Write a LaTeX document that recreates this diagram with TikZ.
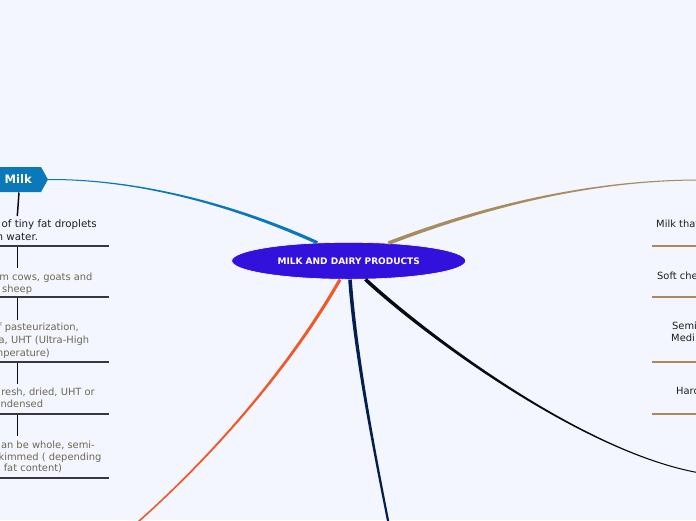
\documentclass[tikz,border=0pt]{standalone}
\usepackage{fontspec}
\setmainfont{DejaVu Sans}
\usetikzlibrary{shapes.geometric,calc}
\definecolor{bg}{RGB}{243,246,254}
\definecolor{rootc}{RGB}{51,17,221}
\definecolor{milkc}{RGB}{10,120,185}
\definecolor{tanc}{RGB}{166,140,95}
\definecolor{orangec}{RGB}{240,90,40}
\definecolor{navyc}{RGB}{5,30,80}
\definecolor{blackc}{RGB}{10,10,20}
\definecolor{olivec}{RGB}{108,104,82}
\definecolor{linec}{RGB}{55,55,65}
\definecolor{tanline}{RGB}{170,140,90}
\definecolor{txt}{RGB}{30,30,30}
% tapered connector: #1 colour, #2 thick end, #3 control near thick end, #4 control near thin end, #5 thin end, #6 half width thick, #7 half width thin
\newcommand\taperline[7]{%
  \coordinate (tA) at ($(#2)!#6!90:(#3)$);
  \coordinate (tB) at ($(#2)!#6!-90:(#3)$);
  \coordinate (tC) at ($(#5)!#7!-90:(#4)$);
  \coordinate (tD) at ($(#5)!#7!90:(#4)$);
  \fill[#1] (tA) .. controls ($(#3)+(tA)-(#2)$) and ($(#4)+(tC)-(#5)$) .. (tC)
    -- (tD) .. controls ($(#4)+(tD)-(#5)$) and ($(#3)+(tB)-(#2)$) .. (tB) -- cycle;
}
\begin{document}
\begin{tikzpicture}[x=1pt,y=-1pt,
  rootnode/.style={ellipse, fill=rootc, draw=white, line width=0.6pt,
    minimum width=234, minimum height=37, inner sep=0pt, text=white,
    font=\fontsize{9}{11}\selectfont\bfseries},
  milktext/.style={text=white, inner sep=0pt, font=\fontsize{11.6}{14}\selectfont\bfseries},
  ltxt/.style={anchor=base east, inner sep=0pt, text=olivec, font=\fontsize{9.9}{12}\selectfont},
  ltxtb/.style={ltxt, text=txt, font=\fontsize{10.3}{12}\selectfont},
  rtxt/.style={anchor=base west, inner sep=0pt, text=txt, font=\fontsize{9.9}{12}\selectfont},
  vconn/.style={draw=blackc, line width=1.5pt},
  uline/.style={draw=linec, line width=1.8pt},
  rline/.style={draw=tanline, line width=1.5pt}]
\fill[bg] (0,0) rectangle (696,520);
\useasboundingbox (0,0) rectangle (696,520);
\clip (0,0) rectangle (696,520);

% central node
\node[rootnode] (root) at (348.7,260.8) {MILK AND DAIRY PRODUCTS};

% Milk topic
\fill[milkc] (-10,167) -- (41,167) -- (48,179.5) -- (41,192) -- (-10,192) -- cycle;
\node[milktext] (milk) at (18.3,179.5) {Milk};
\coordinate (milktip) at (48,179.5);
\coordinate (tanend) at (700,180);
\coordinate (orend) at (138,522);
\coordinate (navend) at (388.5,523);
\coordinate (blkend) at (700,473);

% main connectors (tapered)
\taperline{milkc}{root.150}{250,212}{150,179}{milktip}{1.6pt}{0.5pt}
\taperline{tanc}{root.24}{470,212}{580,180}{tanend}{1.8pt}{0.5pt}
\taperline{orangec}{root.-115}{300,350}{230,440}{orend}{1.6pt}{0.8pt}
\taperline{navyc}{root.-86}{355,350}{372,440}{navend}{1.8pt}{1.1pt}
\taperline{blackc}{root.-48}{420,330}{580,452}{blkend}{1.8pt}{0.5pt}

% left column
\node[ltxtb] (l1a) at (97,227.5) {of tiny fat droplets};
\node[ltxtb] (l1b) at (38.3,240) {n water.};
\node[ltxt] (l2a) at (92.7,280.5) {m cows, goats and};
\node[ltxt] (l2b) at (32.3,292) {sheep};
\node[ltxt] (l3a) at (79,330.5) {f pasteurization,};
\node[ltxt] (l3b) at (89.3,343.5) {a, UHT (Ultra-High};
\node[ltxt] (l3c) at (50,356.5) {mperature)};
\node[ltxt] (l4a) at (95,395.5) {resh, dried, UHT or};
\node[ltxt] (l4b) at (43.3,407.5) {ndensed};
\node[ltxt] (l5a) at (95,448.5) {an be whole, semi-};
\node[ltxt] (l5b) at (101.7,460.5) {kimmed ( depending};
\node[ltxt] (l5c) at (62.3,471.5) {fat content)};

\draw[uline] (-5,246) -- (109,246);
\draw[uline] (-5,297) -- (109,297);
\draw[uline] (-5,362) -- (109,362);
\draw[uline] (-5,414) -- (109,414);
\draw[uline] (-5,478) -- (109,478);

\coordinate (m0) at (19,192.5);
\coordinate (t1) at (17.3,216);
\coordinate (b1) at (17.3,247);
\coordinate (t2) at (17.3,268);
\coordinate (b2) at (17.3,298);
\coordinate (t3) at (17.3,320);
\coordinate (b3) at (17.3,363);
\coordinate (t4) at (17.3,384);
\coordinate (b4) at (17.3,415);
\coordinate (t5) at (17.3,436);
\draw[vconn] (m0) -- (t1);
\draw[vconn] (b1) -- (t2);
\draw[vconn] (b2) -- (t3);
\draw[vconn] (b3) -- (t4);
\draw[vconn] (b4) -- (t5);

% right column
\node[rtxt] (r1) at (656,227.5) {Milk that};
\node[rtxt] (r2) at (657,279.5) {Soft che};
\node[rtxt] (r3a) at (672,329.5) {Semi};
\node[rtxt] (r3b) at (671,341.5) {Medi};
\node[rtxt] (r4) at (676,394.5) {Hard};
\draw[rline] (652,246) -- (700,246);
\draw[rline] (652,297) -- (700,297);
\draw[rline] (652,362) -- (700,362);
\draw[rline] (652,414) -- (700,414);
\end{tikzpicture}
\end{document}
